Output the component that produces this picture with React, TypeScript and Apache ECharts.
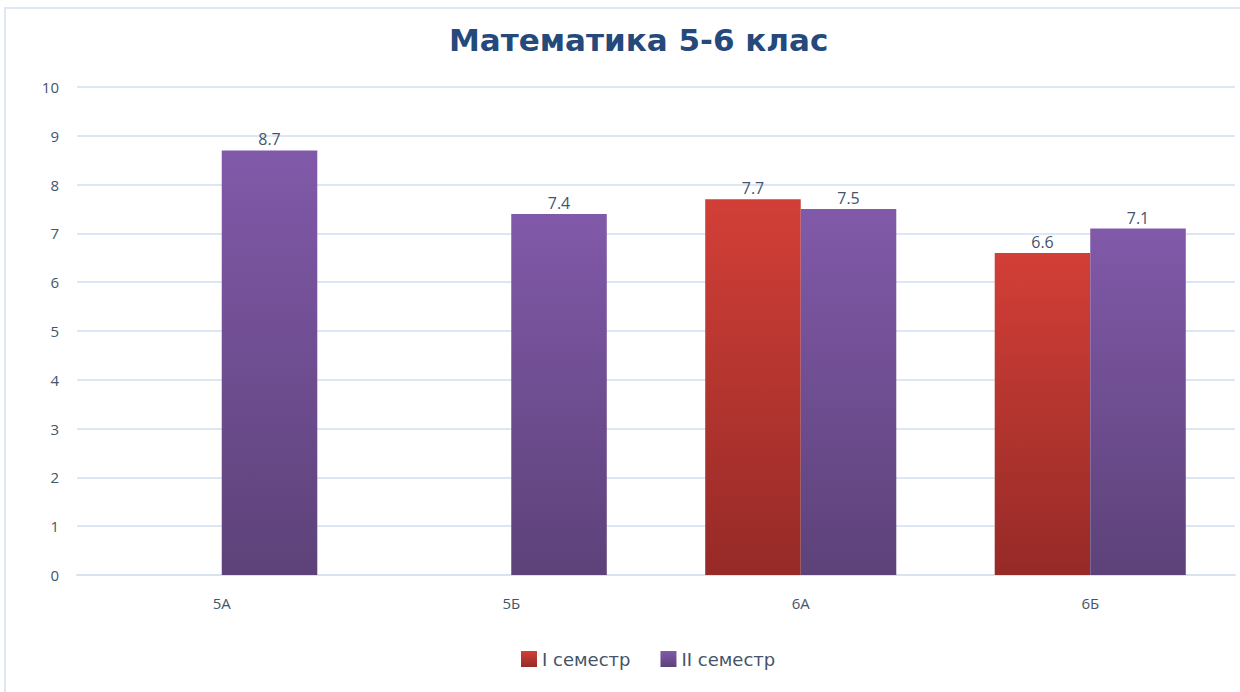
import React, { useEffect, useRef } from "react";
import * as echarts from "echarts";

const categories = ["5А", "5Б", "6А", "6Б"];
const semester1 = [null, null, 7.7, 6.6];
const semester2 = [8.7, 7.4, 7.5, 7.1];
const seriesNames = ["I семестр", "II семестр"];
const titleText = "Математика 5-6 клас";

export default function App() {
  const ref = useRef<HTMLDivElement>(null);
  useEffect(() => {
    const chart = echarts.init(ref.current!, undefined, { renderer: "svg" });
    const grad = (top: string, bottom: string) =>
      new echarts.graphic.LinearGradient(0, 0, 0, 1, [
        { offset: 0, color: top },
        { offset: 1, color: bottom },
      ]);
    const labelStyle = {
      show: true,
      position: "top" as const,
      color: "#44546a",
      fontSize: 16,
      fontFamily: "Open Sans",
      distance: 3,
    };
    chart.setOption({
      animation: false,
      backgroundColor: "#ffffff",
      title: {
        text: titleText,
        left: 444,
        top: 19,
        textStyle: {
          color: "#24497a",
          fontSize: 31,
          fontWeight: "bold",
          fontFamily: "DejaVu Sans",
        },
      },
      graphic: [
        {
          type: "rect",
          shape: { x: 5, y: 8, width: 1240, height: 700 },
          style: { fill: "none", stroke: "#dfe7f3", lineWidth: 2 },
          silent: true,
        },
      ],
      legend: {
        bottom: 19,
        left: 516,
        itemWidth: 16,
        itemHeight: 16,
        itemGap: 30,
        icon: "rect",
        textStyle: { color: "#44546a", fontSize: 18, fontFamily: "DejaVu Sans" },
        data: seriesNames,
      },
      grid: { left: 77, right: 5, top: 87, bottom: 117 },
      xAxis: {
        type: "category",
        data: categories,
        axisLine: { lineStyle: { color: "#d9e2f0", width: 2 } },
        axisTick: { show: false },
        axisLabel: {
          color: "#44546a",
          fontSize: 15,
          fontFamily: "Open Sans",
          margin: 20,
        },
      },
      yAxis: {
        type: "value",
        min: 0,
        max: 10,
        interval: 1,
        axisLine: { show: false },
        axisTick: { show: false },
        splitLine: { lineStyle: { color: "#dce6f4", width: 2 } },
        axisLabel: {
          color: "#44546a",
          fontSize: 15,
          fontFamily: "Open Sans",
          margin: 18,
        },
      },
      series: [
        {
          name: seriesNames[0],
          type: "bar",
          data: semester1,
          barGap: "0%",
          barCategoryGap: "34%",
          itemStyle: { color: grad("#d23f37", "#962a27") },
          label: labelStyle,
        },
        {
          name: seriesNames[1],
          type: "bar",
          data: semester2,
          itemStyle: { color: grad("#8159a9", "#5d4279") },
          label: labelStyle,
        },
      ],
    });
    return () => chart.dispose();
  }, []);
  return (
    <div
      ref={ref}
      style={{ position: "absolute", left: 0, top: 0, width: 1240, height: 692 }}
    />
  );
}
